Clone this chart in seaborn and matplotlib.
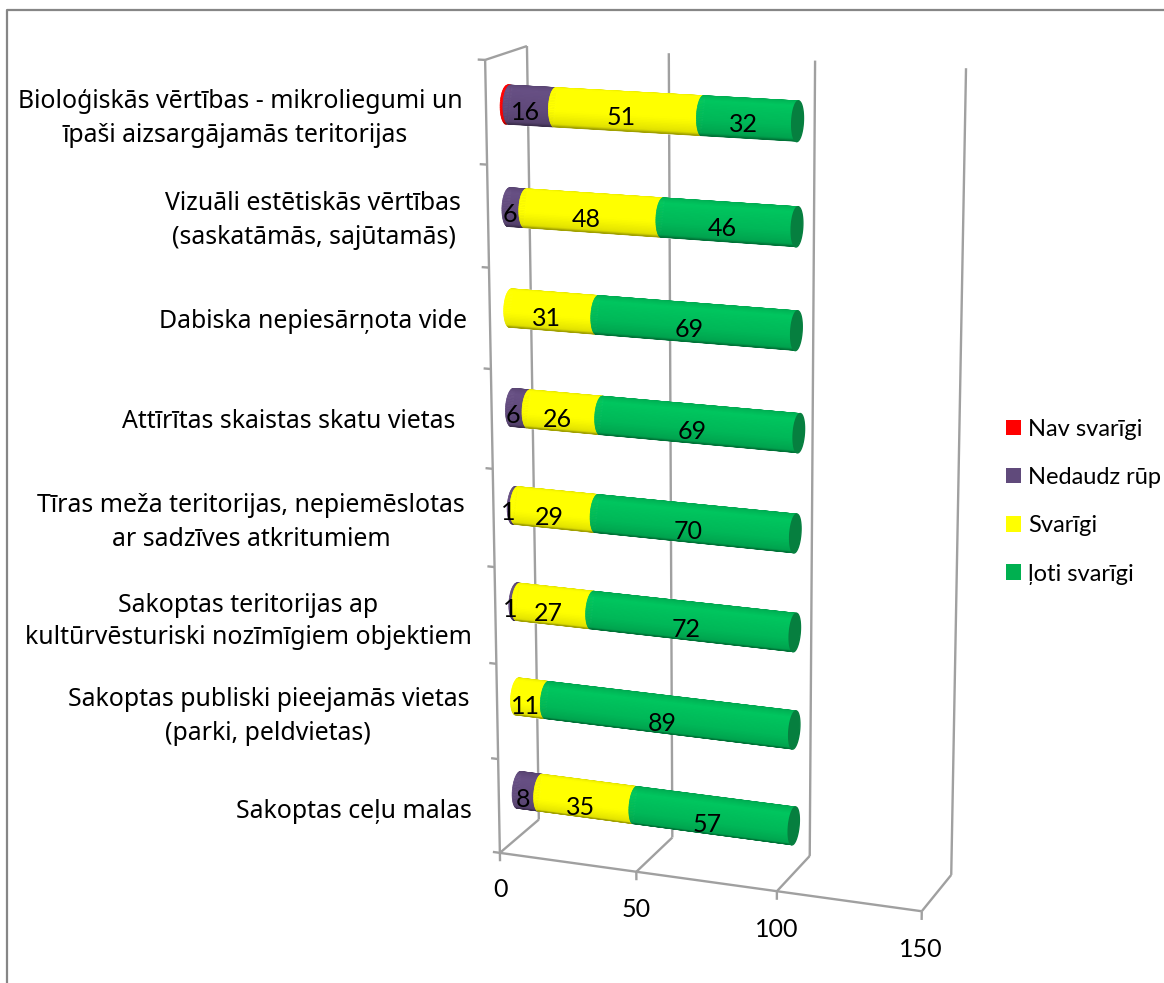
"""stacked cylinder bars drawn in the perspective of a 3D office chart"""

import numpy as np
import pandas as pd
import seaborn as sns
import matplotlib
matplotlib.use('Agg')
from matplotlib import pyplot as plt
from matplotlib.lines import Line2D
from matplotlib.patches import Patch, Rectangle
from matplotlib.transforms import Transform, IdentityTransform

categories = [
    'Bioloģiskās vērtības - mikroliegumi un\nīpaši aizsargājamās teritorijas',
    'Vizuāli estētiskās vērtības\n(saskatāmās, sajūtamās)',
    'Dabiska nepiesārņota vide',
    'Attīrītas skaistas skatu vietas',
    'Tīras meža teritorijas, nepiemēslotas\nar sadzīves atkritumiem',
    'Sakoptas teritorijas ap\nkultūrvēsturiski nozīmīgiem objektiem',
    'Sakoptas publiski pieejamās vietas\n(parki, peldvietas)',
    'Sakoptas ceļu malas',
]
nav_svarigi = [1, 0, 0, 0, 0, 0, 0, 0]
nedaudz = [16, 6, 0, 6, 1, 1, 0, 8]
svarigi = [51, 48, 31, 26, 29, 27, 11, 35]
loti_svarigi = [32, 46, 69, 69, 70, 72, 89, 57]
series_names = ['Nav svarīgi', 'Nedaudz rūp', 'Svarīgi', 'ļoti svarīgi']
value_ticks = [0, 50, 100, 150]

W, H = 1164, 983
BAR_W = 0.5
RY, RD = 0.19, 0.17
T_TOP = -0.34
N_STRIPS = 36
GRID = '#a0a0a0'
FRAME = '#868686'
colors = ['#ff0000', '#604a7b', '#ffff00', '#00b858']
cap_color = '#067f3f'

# box corners as (value, height, depth) -> pixel, used to fit the camera
box_3d = [(0, 0, 0), (50, 0, 0), (100, 0, 0), (150, 0, 0),
          (0, 0, 1), (50, 0, 1), (100, 0, 1), (150, 0, 1),
          (0, 8, 0), (0, 8, 1), (50, 8, 1), (100, 8, 1), (150, 8, 1)]
box_px = [(500, 853), (636, 872), (777, 891), (922, 911),
          (539, 819), (672, 838), (810, 856), (951, 875),
          (485, 60), (527, 46), (669, 53), (815, 61), (966, 68)]


def fit_camera(pts3, pts2):
    rows = []
    for (a, b, c), (u, v) in zip(pts3, pts2):
        rows.append([a, b, c, 1, 0, 0, 0, 0, -u*a, -u*b, -u*c, -u])
        rows.append([0, 0, 0, 0, a, b, c, 1, -v*a, -v*b, -v*c, -v])
    return np.linalg.svd(np.array(rows, float))[2][-1].reshape(3, 4)


CAM = fit_camera(box_3d, box_px)


def project(v, y, d):
    p = CAM @ np.vstack([v, y, d, np.ones_like(v)])
    return np.column_stack([p[0]/p[2], H - p[1]/p[2]])


class WallTransform(Transform):
    """(value, category position) on a plane of constant depth -> display"""
    input_dims = output_dims = 2
    is_affine = False

    def __init__(self, plane=0.0):
        super().__init__()
        self.plane = plane

    def transform_non_affine(self, xy):
        xy = np.asarray(xy, float).reshape(-1, 2)
        return project(xy[:, 0], 7.5 - xy[:, 1], np.full(len(xy), self.plane))


class CylinderTransform(Transform):
    """(value, category position) wrapped on the visible side of a cylinder"""
    input_dims = output_dims = 2
    is_affine = False

    def __init__(self, full=False):
        super().__init__()
        self.full = full

    def transform_non_affine(self, xy):
        xy = np.asarray(xy, float).reshape(-1, 2)
        row = np.round(xy[:, 1])
        u = np.clip((xy[:, 1] - row) / (BAR_W / 2), -1, 1)
        t = u * np.pi if self.full else T_TOP + (u + 1) / 2 * np.pi
        return project(xy[:, 0], 7.5 - row + RY * np.cos(t), 0.5 - RD * np.sin(t))


def shade(hex_color, s):
    # s runs 0..1 from the top silhouette to the bottom one
    m = np.interp(s, [0, 0.06, 0.3, 0.62, 0.88, 1], [0.8, 0.92, 1.08, 1.0, 0.88, 0.6])
    return tuple(np.clip(np.array(matplotlib.colors.to_rgb(hex_color)) * m, 0, 1))


sns.set_theme(style='white')
plt.rcParams['font.family'] = ['Lato', 'DejaVu Sans']

fig = plt.figure(figsize=(W / 100, H / 100), dpi=100)
ax = fig.add_axes([0, 0, 1, 1])

df = pd.DataFrame({'category': categories, series_names[0]: nav_svarigi,
                   series_names[1]: nedaudz, series_names[2]: svarigi,
                   series_names[3]: loti_svarigi})

surface = CylinderTransform()
lefts = np.zeros(len(categories))
for name, color in zip(series_names, colors):
    before = len(ax.patches)
    sns.barplot(data=df, x=name, y='category', left=lefts, width=BAR_W, color=color,
                saturation=1, errorbar=None, orient='h', ax=ax, zorder=3)
    for bar in list(ax.patches[before:]):
        bar.set_transform(surface)
        bar.set_clip_on(False)
        if bar.get_width() == 0:
            continue
        # cylinder shading: thin strips laid over the seaborn bar
        step = bar.get_height() / N_STRIPS
        for k in range(N_STRIPS):
            c = shade(color, (k + 0.5) / N_STRIPS)
            ax.add_patch(Rectangle((bar.get_x(), bar.get_y() + k * step), bar.get_width(), step,
                                   facecolor=c, edgecolor=c, linewidth=0.5,
                                   transform=surface, clip_on=False, zorder=3))
    lefts = lefts + df[name].to_numpy()

# dark end caps and the value labels
cap = CylinderTransform(full=True)
label_plane = WallTransform(0.32)
for i, total in enumerate(lefts):
    c = np.linspace(i - BAR_W / 2, i + BAR_W / 2, 60)
    ax.fill(np.full(60, total), c, color=cap_color, transform=cap, clip_on=False, zorder=4)

start = np.array(nav_svarigi, float)
for values in (nedaudz, svarigi, loti_svarigi):
    for i, val in enumerate(values):
        if val:
            ax.text(start[i] + val / 2, i + 0.03, str(val), transform=label_plane, ha='center', va='center',
                    fontsize=18, color='black', zorder=6, clip_on=False)
    start = start + np.array(values)

# walls, floor and ticks
front_wall, back_wall = WallTransform(0.0), WallTransform(1.0)
wall_kw = dict(color=GRID, lw=1.7, clip_on=False, zorder=1, solid_capstyle='butt')
pixel = IdentityTransform()
for v in value_ticks:
    ax.plot([v, v], [-0.5, 7.5], transform=back_wall, **wall_kw)
    ax.plot([v, v], [7.5, 7.59], transform=front_wall, **wall_kw)
    ax.text(v, 7.9, str(v), transform=front_wall, ha='center', va='center',
            fontsize=18, color='black', clip_on=False)
    a, b = project(np.array([v, v]), np.zeros(2), np.array([0.0, 1.0]))
    ax.add_line(Line2D([a[0], b[0]], [a[1], b[1]], transform=pixel, **wall_kw))
ax.plot([0, 150], [7.5, 7.5], transform=front_wall, **wall_kw)
ax.plot([0, 0], [-0.5, 7.5], transform=front_wall, **wall_kw)
a, b = project(np.zeros(2), np.full(2, 8.0), np.array([0.0, 1.0]))
ax.add_line(Line2D([a[0], b[0]], [a[1], b[1]], transform=pixel, **wall_kw))
for i in range(len(categories) + 1):
    ax.plot([-2.6, 0], [i - 0.5, i - 0.5], transform=front_wall, **wall_kw)

# category labels, line by line because the source centres them unevenly
label_px = [[(240, 101), (235, 135)], [(313, 204), (314, 237)], [(313, 322)], [(289, 422)],
            [(251, 506), (251, 539)], [(248, 605), (248, 637)], [(269, 700), (268, 734)], [(354, 811)]]
for text, places in zip(categories, label_px):
    for line, (px, py) in zip(text.split('\n'), places):
        fig.text(px / W, 1 - py / H, line, ha='center', va='center', fontsize=17.9,
                 family=['Noto Sans', 'DejaVu Sans'], color='black')

handles = [Patch(facecolor=c, edgecolor='none') for c in ['#ff0000', '#604a7b', '#ffff00', '#00b050']]
fig.legend(handles, series_names, loc='upper left', bbox_to_anchor=(1001 / W, 1 - 414 / H), frameon=False,
           fontsize=17, handlelength=0.64, handleheight=0.64, handletextpad=0.3, labelspacing=1.155,
           borderaxespad=0, borderpad=0.2, labelcolor='black')

fig.add_artist(Line2D([7 / W, 7 / W, 1], [0, 1 - 10 / H, 1 - 10 / H], color=FRAME, lw=1.6))

ax.set_xlim(0, 150)
ax.set_axis_off()
fig.savefig('out.png', dpi=100)
